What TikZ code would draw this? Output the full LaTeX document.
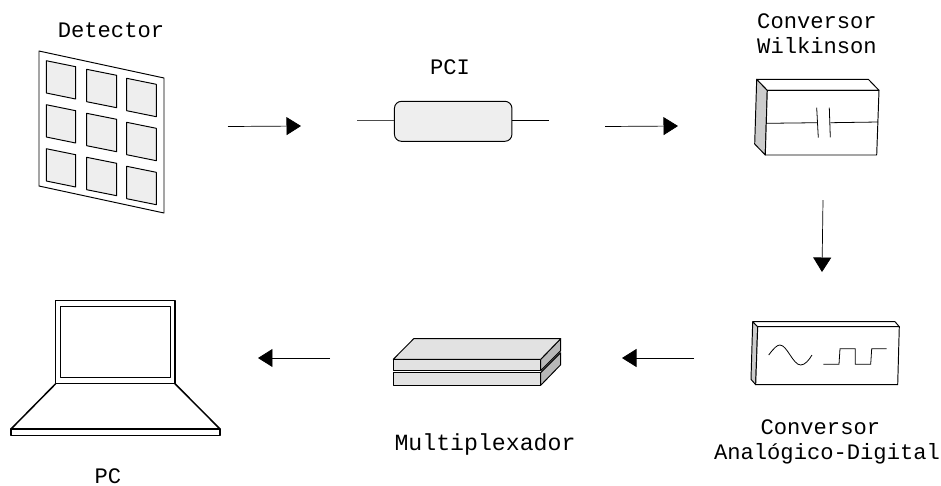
\documentclass[tikz,border=0pt]{standalone}
\usepackage{xcolor}
\usepackage{fontspec}
\setmainfont{Liberation Mono}
\usetikzlibrary{arrows.meta, positioning, calc}

\definecolor{cellgray}{HTML}{EEEEEE}
\definecolor{sidegray}{HTML}{CCCCCC}
\definecolor{muxtop}{HTML}{E2E2E2}
\definecolor{muxside}{HTML}{B8B8B8}

\begin{document}
\begin{tikzpicture}[
    x=0.02cm, y=-0.02cm,
    label/.style={align=center, inner sep=0pt, font=\fontsize{12.6}{14.2}\selectfont},
    arrow/.style={-{Triangle[length=0.29cm, width=0.36cm]}, line width=0.4pt},
    part/.style={draw, line width=0.55pt, line join=round},
    cell/.style={part, fill=cellgray},
    pcibox/.style={part, fill=cellgray, rectangle, rounded corners=0.14cm, minimum width=2.35cm, minimum height=0.8cm}
]
    \useasboundingbox (0,0) rectangle (941,485);

    % labels
    \node[label] (detector) at (111,30) {Detector};
    \node[label] (pcilabel) at (450,67) {PCI};
    \node[label] (wilkinson) at (817,33.5) {Conversor\\Wilkinson};
    \node[label] (adc) at (827,442) {Conversor\phantom{x}\\Analógico-Digital};
    \node[label, font=\fontsize{13.2}{14.2}\selectfont] (mux) at (485,444) {Multiplexador};
    \node[label] (pc) at (108,476) {PC};

    % detector
    \draw[part] (39,51) -- (164,78) -- (164,213) -- (39,186) -- cycle;
    \draw[cell] (46.3,60.7) -- (75.7,66.7) -- (75.7,99) -- (46.3,93) -- cycle;
    \draw[cell] (86.7,69.3) -- (116.7,75.3) -- (116.7,107.7) -- (86.7,101.7) -- cycle;
    \draw[cell] (126.7,78.3) -- (156.3,84.3) -- (156.3,116.7) -- (126.7,110.7) -- cycle;
    \draw[cell] (46.3,104.7) -- (75.7,110.7) -- (75.7,143) -- (46.3,137) -- cycle;
    \draw[cell] (86.7,113.3) -- (116.7,119.3) -- (116.7,151.7) -- (86.7,145.7) -- cycle;
    \draw[cell] (126.7,122.3) -- (156.3,128.3) -- (156.3,160.7) -- (126.7,154.7) -- cycle;
    \draw[cell] (46.3,148.7) -- (75.7,154.7) -- (75.7,187) -- (46.3,181) -- cycle;
    \draw[cell] (86.7,157.3) -- (116.7,163.3) -- (116.7,195.7) -- (86.7,189.7) -- cycle;
    \draw[cell] (126.7,166.3) -- (156.3,172.3) -- (156.3,204.7) -- (126.7,198.7) -- cycle;

    % PCI
    \node[pcibox] (pci) at (453.2,121.3) {};
    \coordinate (pciin) at (357,120.7);
    \coordinate (pciout) at (549,120.7);
    \draw[line width=0.4pt, black!70] (pciin) -- (pci.west |- pciin);
    \draw[line width=0.8pt] (pci.east |- pciout) -- (pciout);

    % Wilkinson converter
    \draw[part, fill=sidegray] (756.7,79.3) -- (767.3,90.3) -- (765.3,155) -- (754.7,144) -- cycle;
    \draw[part, fill=white] (756.7,79.3) -- (868.3,79.3) -- (879,90.3) -- (767.3,90.3) -- cycle;
    \draw[part, fill=white] (767.3,90.3) -- (879,90.3) -- (876.7,155) -- (765.3,155) -- cycle;
    \draw[line width=0.45pt] (766.7,123.3) -- (817.3,122.7);
    \draw[line width=0.45pt] (816.7,107.7) -- (818.3,137.7);
    \draw[line width=0.45pt] (829.3,107.7) -- (830.3,137.3);
    \draw[line width=0.45pt] (830.3,122.7) -- (878,122);

    % A/D converter
    \draw[part, fill=sidegray] (752.7,321.7) -- (757.7,326.7) -- (755.7,384.7) -- (751,379.3) -- cycle;
    \draw[part, fill=white] (752.7,321.7) -- (895,321.7) -- (899.3,326.7) -- (757.7,326.7) -- cycle;
    \draw[part, fill=white] (757.7,326.7) -- (899.3,326.7) -- (897.7,384.7) -- (755.7,384.7) -- cycle;
    \draw[line width=0.45pt] (768.7,355) .. controls (774,348) and (777,345) .. (780,345)
        .. controls (787,345) and (793,365) .. (800.7,365)
        .. controls (805,365) and (809,360) .. (812,355);
    \draw[line width=0.45pt] (823.3,364.3) -- (839,364.3) -- (840,348.7) -- (855.3,348.7)
        -- (855.3,364.3) -- (870.7,364.3) -- (871.7,348.7) -- (886.7,348.7);

    % multiplexer
    \draw[part, fill=muxside] (540.7,372.7) -- (560.7,352.7) -- (560.7,364.7) -- (540.7,385.3) -- cycle;
    \draw[part, fill=muxtop] (393.3,372.7) -- (540.7,372.7) -- (540.7,385.3) -- (393.3,385.3) -- cycle;
    \draw[part, fill=muxside] (540.7,359.3) -- (560.7,338.7) -- (560.7,350.7) -- (540.7,370.7) -- cycle;
    \draw[part, fill=muxtop] (393.3,359.3) -- (413.7,338.7) -- (560.7,338.7) -- (540.7,359.3) -- cycle;
    \draw[part, fill=muxtop] (393.3,359.3) -- (540.7,359.3) -- (540.7,370.7) -- (393.3,370.7) -- cycle;

    % laptop
    \draw[part, line width=0.85pt] (55.7,300.7) rectangle (175,383.7);
    \draw[part, line width=0.85pt] (60.7,306.7) rectangle (170.3,377.3);
    \draw[part, line width=0.85pt] (55.7,383.7) -- (11,429) -- (220,429) -- (175,383.7);
    \draw[part, line width=0.85pt] (11,429) rectangle (220,435.7);

    % connectors
    \coordinate (a1) at (228,126.5);
    \coordinate (b1) at (301,126);
    \coordinate (a2) at (605,126.5);
    \coordinate (b2) at (678,126);
    \coordinate (a3) at (823,200);
    \coordinate (b3) at (822,272);
    \coordinate (a4) at (694,358);
    \coordinate (b4) at (622,358);
    \coordinate (a5) at (330,358);
    \coordinate (b5) at (258,358);
    \draw[arrow] (a1) -- (b1);
    \draw[arrow] (a2) -- (b2);
    \draw[arrow] (a3) -- (b3);
    \draw[arrow] (a4) -- (b4);
    \draw[arrow] (a5) -- (b5);
\end{tikzpicture}
\end{document}
